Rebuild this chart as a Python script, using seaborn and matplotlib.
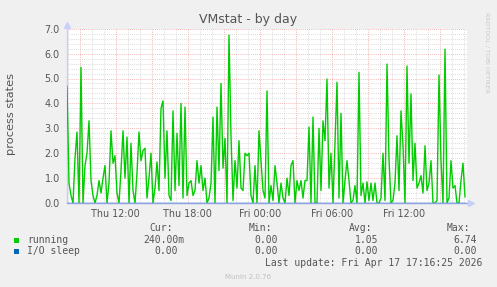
import numpy as np
import pandas as pd
import matplotlib
matplotlib.use("Agg")
import matplotlib.pyplot as plt
import matplotlib.dates as mdates
from matplotlib.ticker import MultipleLocator, FuncFormatter
from matplotlib.patches import Rectangle
import seaborn as sns

# ---------------- data (10-minute samples) ----------------
running = [
    4.7, 0.8, 0.3, 0.0, 1.8, 2.85, 0.0, 5.45, 0.0, 1.5,
    2.0, 3.3, 0.9, 0.3, 0.0, 0.3, 0.9, 0.4, 1.0, 1.5,
    0.0, 0.8, 2.9, 1.6, 1.9, 0.4, 0.0, 1.3, 2.9, 1.0,
    2.65, 0.0, 2.4, 0.5, 0.0, 1.2, 2.85, 1.7, 2.1, 2.2,
    0.2,
    1.0, 2.0, 0.0, 0.6, 1.65, 0.5, 3.8, 4.1, 1.0, 2.9,
    0.3, 0.1, 3.7, 0.5, 2.8, 0.7, 4.0, 0.2, 3.85, 0.3,
    0.8, 0.9, 0.3, 0.5, 1.7, 0.8, 1.5, 0.5, 1.0, 0.0,
    0.2, 0.8, 3.45, 0.0, 3.85, 1.3, 4.8, 1.4, 2.6, 0.0,
    6.74, 2.7, 0.1, 1.7, 0.6, 2.5, 0.6, 0.5, 2.0, 1.9,
    2.0, 0.3, 0.0, 1.5, 0.0, 2.9, 1.7, 0.5, 0.2, 4.5,
    0.0, 0.7, 0.1, 1.5, 0.8, 0.0, 0.8, 0.2, 0.0, 1.0,
    0.3, 1.5, 1.7, 0.0, 0.9, 0.5, 0.9, 0.2, 0.9, 0.9,
    3.05, 0.0, 3.45, 0.0, 0.0, 3.0, 0.5, 3.3, 2.5, 4.98,
    0.6, 2.0, 0.0, 2.4, 4.85, 0.2, 3.6, 0.0, 0.9, 1.7,
    0.9, 0.0, 0.1, 0.7, 0.0, 5.25, 0.3, 0.8, 0.0, 0.85,
    0.1, 0.8, 0.1, 0.8, 0.0, 0.0, 0.2, 2.0, 0.1, 5.58,
    1.77, 0.0, 0.1, 0.8, 2.7, 0.5, 3.7, 2.3, 0.0, 5.5,
    1.6, 4.38, 0.9, 2.4, 0.6, 0.8, 1.1, 0.4, 2.3, 0.5,
    0.8, 1.7, 0.0, 0.0, 0.1, 5.14, 1.7, 0.0, 6.18, 0.0,
    0.2, 1.7, 0.6, 0.7, 0.0, 0.0, 0.9, 1.6, 0.24,
]
io_sleep = [0.0] * len(running)

series_names = ["running", "I/O sleep"]
series_colors = ["#00CC00", "#0066B3"]
cur_vals = ["240.00m", "0.00"]
min_vals = ["0.00", "0.00"]
avg_vals = ["1.05", "0.00"]
max_vals = ["6.74", "0.00"]
col_headers = ["Cur:", "Min:", "Avg:", "Max:"]

title = "VMstat - by day"
ylabel = "process states"
last_update = "Last update: Fri Apr 17 17:16:25 2026"
version = "Munin 2.0.76"
watermark = "RRDTOOL / TOBI OETIKER"

start = pd.Timestamp("2026-04-16 07:56:25")
end = pd.Timestamp("2026-04-17 17:16:25")
times = start + pd.to_timedelta(np.arange(len(running)) * 10, unit="min")
df = pd.DataFrame({"time": times, "running": running, "io": io_sleep})

# ---------------- figure ----------------
sns.set_style("white")
plt.rcParams["font.family"] = ["DejaVu Sans"]

W, H = 497, 287
BACK = "#F0F0F0"
FONT = "#555555"
MAJ = "#F2A0A0"
MIN = "#D0D0D0"
fig = plt.figure(figsize=(W / 100, H / 100), dpi=100, facecolor=BACK)


def fx(x):
    return x / W


def fy(y):
    return 1 - y / H


ax = fig.add_axes([fx(67), fy(203), 400 / W, (203 - 28.7) / H])
ax.set_facecolor("white")

sns.lineplot(data=df, x="time", y="running", color=series_colors[0], lw=1.0, ax=ax, zorder=3)
sns.lineplot(data=df, x="time", y="io", color=series_colors[1], lw=1.0, ax=ax, zorder=4)

ax.set_xlim(start, end)
ax.set_ylim(0, 7)
ax.set_xlabel("")
ax.set_ylabel("")

ax.yaxis.set_major_locator(MultipleLocator(1.0))
ax.yaxis.set_minor_locator(MultipleLocator(0.2))
ax.yaxis.set_major_formatter(FuncFormatter(lambda v, p: f"{v:.1f}"))

ax.xaxis.set_major_locator(mdates.HourLocator(byhour=range(0, 24, 3)))
ax.xaxis.set_minor_locator(mdates.HourLocator())


def xfmt(v, p):
    d = mdates.num2date(v)
    if d.hour % 6 == 0:
        return d.strftime("%a %H:%M")
    return ""


ax.xaxis.set_major_formatter(FuncFormatter(xfmt))

ax.grid(which="minor", color=MIN, linestyle=(0, (1, 1.5)), lw=0.6)
ax.grid(which="major", color=MAJ, linestyle=(0, (1, 1.5)), lw=0.6)
ax.set_axisbelow(True)
for s in ax.spines.values():
    s.set_visible(False)
ax.tick_params(which="both", direction="out", labelsize=6.9, labelcolor=FONT)
ax.tick_params(which="major", length=1.6, width=0.7, color=MAJ)
ax.tick_params(which="minor", length=1.6, width=0.7, color=MIN)
ax.tick_params(axis="y", which="major", pad=3.6)
ax.tick_params(axis="x", which="major", pad=2.8)

# axis lines and arrows
AX_COL = "#C8D0F8"
ax.plot([0, 0], [0, 1.02], transform=ax.transAxes, color=AX_COL, lw=1, clip_on=False, zorder=2)
ax.plot([0, 1.01], [0, 0], transform=ax.transAxes, color="#8FA2E2", lw=1, clip_on=False, zorder=5)
ax.plot([0], [1.02], marker="^", ms=4, color=AX_COL, transform=ax.transAxes, clip_on=False)
ax.plot([1.01], [0], marker=">", ms=4, color=AX_COL, transform=ax.transAxes, clip_on=False, zorder=6)

# texts
fig.text(fx(248), fy(19), title, ha="center", va="center", fontsize=9, color=FONT)
fig.text(fx(11), fy(114), ylabel, ha="center", va="center", rotation=90, fontsize=8.2, color=FONT)
fig.text(fx(487), fy(52), watermark, ha="center", va="center", rotation=270, fontsize=4.5, color="#C8C8C8")

MONO = dict(family="DejaVu Sans Mono", fontsize=7, color=FONT, va="center")
header_x = [173, 272, 372, 470]
value_x = [178, 278, 378, 477]
for hx, h in zip(header_x, col_headers):
    fig.text(fx(hx), fy(228), h, ha="right", **MONO)

rows_y = [240, 251]
for i, name in enumerate(series_names):
    y = rows_y[i]
    fig.patches.append(Rectangle((fx(14), fy(y + 3)), 5 / W, 5 / H, transform=fig.transFigure,
                                 facecolor=series_colors[i], edgecolor="none"))
    fig.text(fx(27), fy(y), name, ha="left", **MONO)
    for cx, vals in zip(value_x, [cur_vals, min_vals, avg_vals, max_vals]):
        v = vals[i]
        off = 6 if v[-1].isalpha() else 0
        fig.text(fx(cx + off), fy(y), v, ha="right", **MONO)

fig.text(fx(482), fy(263), last_update, ha="right", **MONO)
fig.text(fx(248), fy(277), version, ha="center", va="center", fontsize=5, color="#C0C0C0")

fig.savefig("out.png", dpi=100, facecolor=BACK)
